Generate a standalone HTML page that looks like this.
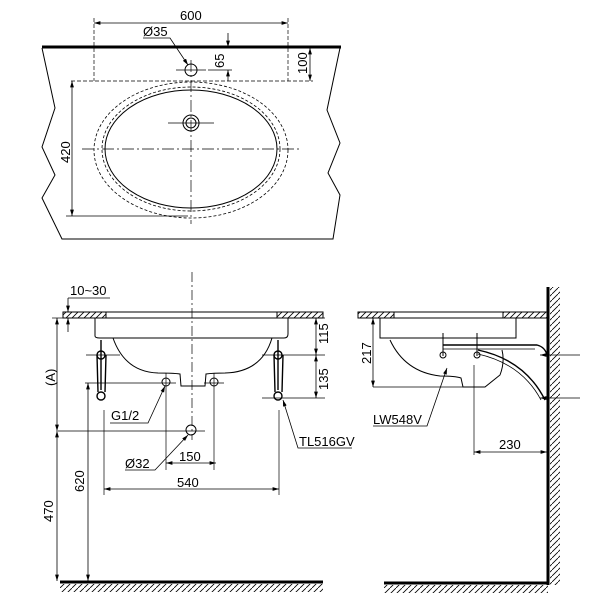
<!DOCTYPE html>
<html><head><style>body{margin:0;background:#fff}svg{display:block}text{font-family:"Liberation Sans",Arial,sans-serif;font-size:13px;fill:#000}</style></head>
<body>
<svg width="600" height="600" viewBox="0 0 600 600" xmlns="http://www.w3.org/2000/svg">
<defs>
<marker id="a" viewBox="0 0 10 6" refX="10" refY="3" markerWidth="8" markerHeight="5" orient="auto-start-reverse"><path d="M0,0L10,3L0,6z" fill="#000"/></marker>
<pattern id="h" width="6" height="6" patternUnits="userSpaceOnUse"><path d="M0,6L6,0" stroke="#000" stroke-width="0.8"/></pattern>
</defs>
<g fill="none" stroke="#000" stroke-width="1">
<!-- TOP VIEW -->
<line x1="42" y1="47" x2="341" y2="47" stroke-width="3"/>
<polyline points="42,48 55,108 42,147 55,175 42,198 62,239 333,239 340,195 328,173 340,143 327,110 340,48"/>
<line x1="94" y1="23" x2="288" y2="23" marker-start="url(#a)" marker-end="url(#a)" stroke-width="0.8"/>
<line x1="94" y1="18" x2="94" y2="81" stroke-width="0.7" stroke-dasharray="4,2"/>
<line x1="288" y1="18" x2="288" y2="81" stroke-width="0.7" stroke-dasharray="4,2"/>
<line x1="71" y1="81" x2="313" y2="81" stroke-width="0.8" stroke-dasharray="4,2"/>
<line x1="310" y1="48" x2="310" y2="81" marker-start="url(#a)" marker-end="url(#a)" stroke-width="0.8"/>
<line x1="228" y1="33" x2="228" y2="47" marker-end="url(#a)" stroke-width="0.8"/>
<line x1="228" y1="81" x2="228" y2="70" marker-end="url(#a)" stroke-width="0.8"/>
<line x1="208" y1="70" x2="232" y2="70" stroke-width="0.7"/>
<circle cx="191" cy="70" r="6"/>
<line x1="176" y1="70" x2="206" y2="70" stroke-width="0.7"/>
<polyline points="143,38 170,38 188,65" stroke-width="0.8" marker-end="url(#a)"/>
<ellipse cx="191" cy="150" rx="97" ry="68" stroke-dasharray="3,2" stroke-width="0.8"/>
<ellipse cx="191" cy="149" rx="89" ry="62" stroke-dasharray="3,2" stroke-width="0.8"/>
<ellipse cx="191" cy="149" rx="86" ry="59"/>
<circle cx="191" cy="123" r="8"/><circle cx="191" cy="123" r="5"/>
<line x1="168" y1="123" x2="214" y2="123" stroke-width="0.7"/>
<line x1="82" y1="149" x2="300" y2="149" stroke-width="0.7" stroke-dasharray="12,3,2,3"/>
<line x1="191" y1="60" x2="191" y2="224" stroke-width="0.7" stroke-dasharray="12,3,2,3"/>
<line x1="72" y1="81" x2="72" y2="216" marker-start="url(#a)" marker-end="url(#a)" stroke-width="0.8"/>
<line x1="66" y1="216" x2="188" y2="216" stroke-width="0.8"/>
<!-- FRONT VIEW -->
<rect x="63" y="312" width="43" height="6" fill="url(#h)"/>
<rect x="277" y="312" width="46" height="6" fill="url(#h)"/>
<line x1="63" y1="312" x2="323" y2="312"/><line x1="63" y1="318" x2="323" y2="318"/>
<path d="M95,318 V336 Q95,338 100,338 H284 Q288,338 288,334 V318"/>
<path d="M113,338 Q125,372 158,373 Q173,373 180,374 L181,386 H205 L206,374 Q213,373 225,373 Q262,372 272,338"/>
<line x1="192" y1="272" x2="192" y2="440" stroke-width="0.7" stroke-dasharray="10,3,2,3"/>
<g stroke-width="1.4">
<path d="M101,340 L101,355 M97,355 L98,392 M106,355 L105,392 M101,355 L101,390"/>
<circle cx="101" cy="355" r="4"/><circle cx="101" cy="396" r="4"/>
<path d="M278,340 L278,355 M274,355 L275,392 M283,355 L282,392 M278,355 L278,390"/>
<circle cx="278" cy="355" r="4"/><circle cx="278" cy="396" r="4"/>
</g>
<line x1="86" y1="355" x2="120" y2="355" stroke-width="0.7"/>
<line x1="262" y1="355" x2="325" y2="355" stroke-width="0.7"/>
<line x1="262" y1="398" x2="325" y2="398" stroke-width="0.7"/>
<line x1="290" y1="318" x2="325" y2="318" stroke-width="0.7"/>
<line x1="316" y1="318" x2="316" y2="355" marker-start="url(#a)" marker-end="url(#a)" stroke-width="0.8"/>
<line x1="316" y1="355" x2="316" y2="398" marker-start="url(#a)" marker-end="url(#a)" stroke-width="0.8"/>
<circle cx="166" cy="382" r="4"/><circle cx="214" cy="382" r="4"/>
<line x1="85" y1="383" x2="176" y2="383" stroke-width="0.7"/>
<line x1="204" y1="383" x2="224" y2="383" stroke-width="0.7"/>
<line x1="166" y1="373" x2="166" y2="470" stroke-width="0.7"/>
<line x1="214" y1="373" x2="214" y2="470" stroke-width="0.7"/>
<line x1="104" y1="410" x2="104" y2="495" stroke-width="0.7"/>
<line x1="279" y1="410" x2="279" y2="495" stroke-width="0.7"/>
<circle cx="191" cy="430" r="5"/>
<line x1="58" y1="431" x2="205" y2="431" stroke-width="0.7"/>
<line x1="166" y1="463" x2="216" y2="463" marker-start="url(#a)" marker-end="url(#a)" stroke-width="0.8"/>
<line x1="104" y1="489" x2="279" y2="489" marker-start="url(#a)" marker-end="url(#a)" stroke-width="0.8"/>
<line x1="88" y1="383" x2="88" y2="581" marker-start="url(#a)" marker-end="url(#a)" stroke-width="0.8"/>
<line x1="57" y1="318" x2="57" y2="431" marker-start="url(#a)" marker-end="url(#a)" stroke-width="0.8"/>
<line x1="57" y1="431" x2="57" y2="581" marker-start="url(#a)" marker-end="url(#a)" stroke-width="0.8"/>
<line x1="52" y1="318" x2="63" y2="318" stroke-width="0.7"/>
<polyline points="68,298 110,298" stroke-width="0.7"/>
<line x1="68" y1="298" x2="68" y2="312" marker-end="url(#a)" stroke-width="0.8"/>
<line x1="68" y1="332" x2="68" y2="318" marker-end="url(#a)" stroke-width="0.8"/>
<line x1="60" y1="582" x2="323" y2="582" stroke-width="3"/>
<rect x="60" y="584" width="263" height="8" fill="url(#h)" stroke="none"/>
<polyline points="352,448 298,448 283,400" stroke-width="0.8" marker-end="url(#a)"/>
<polyline points="110,423 148,423 165,386" stroke-width="0.8" marker-end="url(#a)"/>
<polyline points="125,470 155,470 188,435" stroke-width="0.8" marker-end="url(#a)"/>
<!-- SIDE VIEW -->
<rect x="358" y="312" width="36" height="6" fill="url(#h)"/>
<rect x="503" y="312" width="44" height="6" fill="url(#h)"/>
<line x1="358" y1="312" x2="547" y2="312"/><line x1="358" y1="318" x2="547" y2="318"/>
<path d="M380,318 V338 H516 V318"/>
<path d="M390,340 Q405,372 440,376 Q455,376 461,378 L463,387 H485 L500,375 Q505,362 502,350"/>
<line x1="373" y1="387" x2="485" y2="387" stroke-width="0.7"/>
<line x1="373" y1="318" x2="373" y2="387" marker-start="url(#a)" marker-end="url(#a)" stroke-width="0.8"/>
<line x1="474" y1="365" x2="474" y2="455" stroke-width="0.7"/>
<line x1="474" y1="452" x2="547" y2="452" marker-start="url(#a)" marker-end="url(#a)" stroke-width="0.8"/>
<path d="M443,345 H537 Q545,347 547,355" stroke-width="1.4"/>
<path d="M443,349 H535" stroke-width="0.8"/>
<path d="M478,350 Q525,360 545,400" stroke-width="1.4"/>
<path d="M478,354 Q522,364 541,400" stroke-width="0.8"/>
<g stroke-width="1"><path d="M443,333 V356 M477,333 V356"/><circle cx="443" cy="355" r="3"/><circle cx="477" cy="355" r="3"/></g>
<line x1="540" y1="355" x2="580" y2="355" stroke-width="0.8" marker-start="url(#a)"/>
<line x1="540" y1="398" x2="580" y2="398" stroke-width="0.8" marker-start="url(#a)"/>
<line x1="548" y1="287" x2="548" y2="585" stroke-width="3"/>
<rect x="550" y="287" width="10" height="298" fill="url(#h)" stroke="none"/>
<line x1="384" y1="583" x2="548" y2="583" stroke-width="3"/>
<rect x="384" y="585" width="164" height="8" fill="url(#h)" stroke="none"/>
<polyline points="373,426 427,426 447,368" stroke-width="0.8" marker-end="url(#a)"/>
</g>
<text x="180" y="20">600</text>
<text x="143" y="36">Ø35</text>
<text transform="translate(307,74) rotate(-90)">100</text>
<text transform="translate(224,68) rotate(-90)">65</text>
<text transform="translate(70,163) rotate(-90)">420</text>
<text x="70" y="295">10~30</text>
<text transform="translate(55,386) rotate(-90)">(A)</text>
<text transform="translate(328,344) rotate(-90)">115</text>
<text transform="translate(328,390) rotate(-90)">135</text>
<text x="111" y="420">G1/2</text>
<text x="299" y="446">TL516GV</text>
<text x="125" y="468">Ø32</text>
<text x="179" y="461">150</text>
<text x="177" y="487">540</text>
<text transform="translate(84,492) rotate(-90)">620</text>
<text transform="translate(53,522) rotate(-90)">470</text>
<text transform="translate(371,364) rotate(-90)">217</text>
<text x="373" y="424">LW548V</text>
<text x="499" y="449">230</text>
</svg>
</body></html>
